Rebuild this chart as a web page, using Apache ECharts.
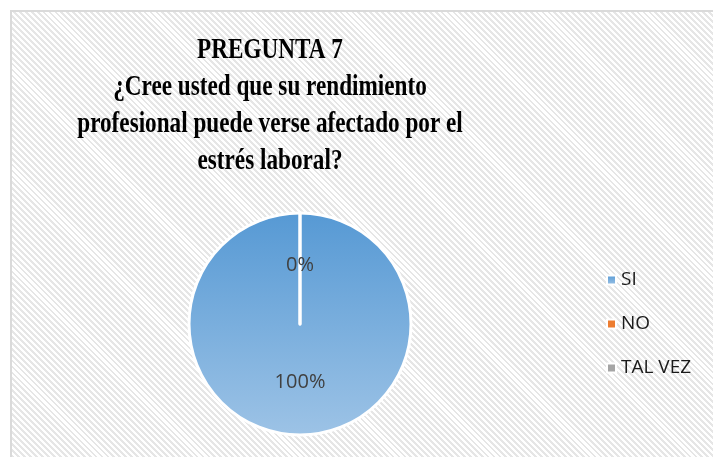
<!DOCTYPE html>
<html>
<head>
    <meta charset="utf-8">
    <title>Pregunta 7</title>
    <script src="https://cdn.jsdelivr.net/npm/echarts@6/dist/echarts.min.js"></script>
    <style>
        body { margin: 0; background: #fff; overflow: hidden; }
        #frame {
            position: absolute; left: 10px; top: 10px;
            width: 720px; height: 460px;
            border: 2px solid #dadada;
            background: repeating-linear-gradient(45deg, #ffffff 0px, #ffffff 2.2px, #e6e6e6 2.2px, #e6e6e6 4.2px);
        }
        #main { position: absolute; left: 0; top: 0; width: 713px; height: 457px; }
    </style>
</head>
<body>
    <div id="frame"></div>
    <div id="main"></div>
    <script type="text/javascript">
        // survey answers
        var categories = ['SI', 'NO', 'TAL VEZ'];
        var values = [100, 0, 0];
        var colors = ['#5b9bd5', '#ed7d31', '#a5a5a5'];
        var titleLines = [
            'PREGUNTA 7',
            '¿Cree usted que su rendimiento',
            'profesional puede verse afectado por el',
            'estrés laboral?'
        ];

        var myChart = echarts.init(document.getElementById('main'));

        // title drawn as narrow serif text (scaled horizontally)
        var titleGraphics = titleLines.map(function (t, i) {
            return {
                type: 'text',
                x: 270,
                y: 51 + i * 37,
                scaleX: 0.8,
                style: {
                    text: t,
                    align: 'center',
                    verticalAlign: 'middle',
                    fontFamily: 'Liberation Serif',
                    fontWeight: 'bold',
                    fontSize: 29,
                    fill: '#000'
                }
            };
        });

        var option = {
            graphic: titleGraphics,
            legend: {
                orient: 'vertical',
                left: 601,
                top: 265,
                itemGap: 24,
                itemWidth: 9,
                itemHeight: 9,
                icon: 'rect',
                data: categories,
                textStyle: { fontFamily: 'Open Sans', fontSize: 19, lineHeight: 20, color: '#1a1a1a' }
            },
            series: [{
                type: 'pie',
                center: [300, 324],
                radius: [0, 111],
                startAngle: 90,
                clockwise: true,
                avoidLabelOverlap: false,
                label: {
                    show: true,
                    position: 'inside',
                    formatter: '{d}%',
                    fontFamily: 'Open Sans',
                    fontSize: 20,
                    color: '#404040'
                },
                labelLine: { show: false },
                itemStyle: { borderColor: '#fff', borderWidth: 3 },
                emphasis: { disabled: true },
                data: categories.map(function (c, i) {
                    var col = colors[i];
                    if (i === 0) {
                        col = new echarts.graphic.LinearGradient(0, 0, 0, 1, [
                            { offset: 0, color: '#5699d4' },
                            { offset: 1, color: '#9dc3e6' }
                        ]);
                    }
                    return { name: c, value: values[i], itemStyle: { color: col } };
                })
            }],
            color: colors
        };

        myChart.setOption(option);
    </script>
</body>
</html>
